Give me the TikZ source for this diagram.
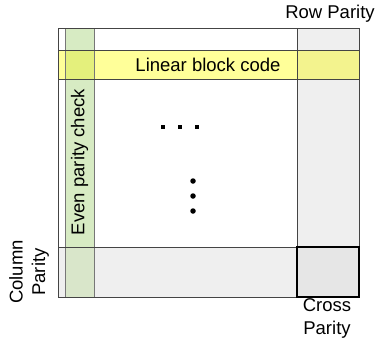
\documentclass[tikz,border=0pt]{standalone}
\usepackage{fontspec}
\setmainfont{Liberation Sans}
\definecolor{grayfill}{HTML}{EFEFEF}
\definecolor{crossfill}{HTML}{E6E6E6}
\definecolor{greenfill}{HTML}{D7EBC3}
\definecolor{yellowfill}{HTML}{FFFF99}
\definecolor{gyfill}{HTML}{E4F07C}
\definecolor{ggfill}{HTML}{D9E6CA}
\definecolor{ryfill}{HTML}{F3F38E}
\definecolor{linec}{HTML}{444444}
\definecolor{glinec}{HTML}{777777}
\tikzset{
  lbl/.style={font=\fontsize{18.5}{22.5}\selectfont, inner sep=0pt, text=black},
  thinline/.style={draw=linec, line width=1pt},
  gline/.style={draw=glinec, line width=1pt},
}
\begin{document}
\begin{tikzpicture}[x=1pt,y=-1pt]
\useasboundingbox (0,0) rectangle (378,343);
% fills
\fill[grayfill] (297,28) rectangle (359,297);
\fill[grayfill] (58,247) rectangle (359,297);
\fill[greenfill] (65,28) rectangle (94,247);
\fill[ggfill] (65,247) rectangle (94,297);
\fill[yellowfill] (58,50) rectangle (297,79);
\fill[gyfill] (65,50) rectangle (94,79);
\fill[ryfill] (297,50) rectangle (359,79);
\fill[crossfill] (297,247) rectangle (359,297);
% lines
\draw[gline] (65,28) -- (65,297);
\draw[gline] (94,28) -- (94,297);
\draw[thinline] (58,50) -- (359,50);
\draw[thinline] (58,79) -- (359,79);
\draw[thinline] (297,28) -- (297,297);
\draw[thinline] (58,247) -- (359,247);
\draw[thinline] (58,28) rectangle (359,297);
\draw[black, line width=2pt] (297,247) rectangle (359,297);
% dots
\foreach \i/\x in {1/163,2/180,3/197}
  \node[fill=black, minimum size=4.5pt, inner sep=0pt] (hd\i) at (\x,127) {};
\foreach \i/\y in {1/181,2/196,3/211}
  \node[circle, fill=black, minimum size=5.5pt, inner sep=0pt] (vd\i) at (193,\y) {};
% texts
\node[lbl] (rowpar) at (330,14) {Row Parity};
\node[lbl] (linear) at (208,64.5) {Linear block code};
\node[lbl, rotate=90] (even) at (79.5,162) {Even parity check};
\node[lbl, rotate=90, align=center] (colpar) at (29,272) {Column\\Parity};
\node[lbl, align=center] (cross) at (327,318.5) {Cross\\Parity};
\end{tikzpicture}
\end{document}
